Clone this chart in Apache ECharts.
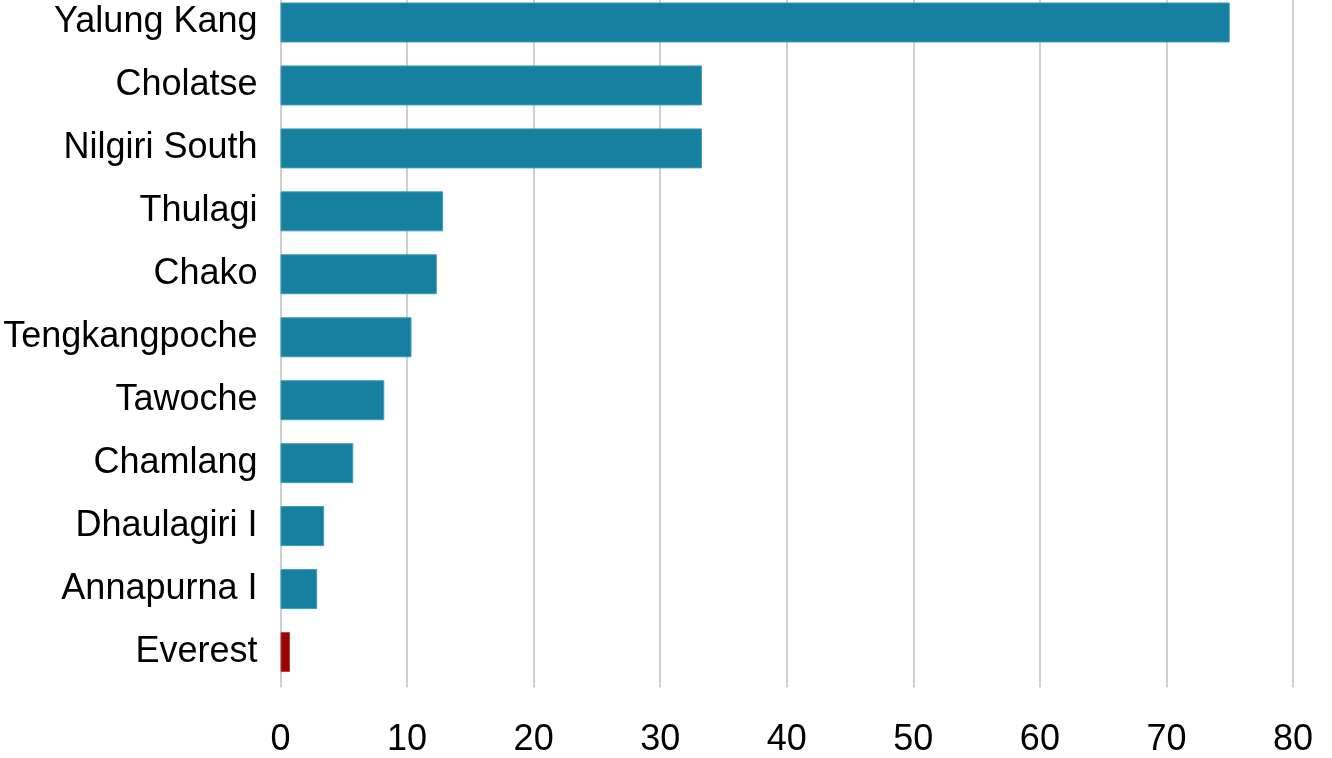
<!DOCTYPE html>
<html>
<head>
<meta charset="utf-8">
<script src="https://cdn.jsdelivr.net/npm/echarts@6/dist/echarts.min.js"></script>
<style>
  html, body { margin: 0; padding: 0; background: #fff; }
  #chart { width: 1332px; height: 758px; }
</style>
</head>
<body>
<div id="chart"></div>
<script>
  // peaks, top to bottom
  const peaks = ['Yalung Kang', 'Cholatse', 'Nilgiri South', 'Thulagi', 'Chako',
    'Tengkangpoche', 'Tawoche', 'Chamlang', 'Dhaulagiri I', 'Annapurna I', 'Everest'];
  const values = [75, 33.3, 33.3, 12.85, 12.35, 10.35, 8.2, 5.75, 3.45, 2.9, 0.75];
  const highlight = 'Everest';

  const myChart = echarts.init(document.getElementById('chart'));

  const option = {
    backgroundColor: '#fff',
    animation: false,
    grid: { left: 280.5, right: 39, top: -9, bottom: 74.5, containLabel: false, outerBoundsMode: 'none' },
    xAxis: {
      type: 'value',
      min: 0,
      max: 80,
      interval: 10,
      axisLine: { show: false },
      axisTick: { show: true, length: 4, lineStyle: { color: '#cfcfcf', width: 2 } },
      splitLine: { show: true, lineStyle: { color: '#cfcfcf', width: 2 } },
      axisLabel: { color: '#000', fontSize: 36, fontFamily: 'Liberation Sans, Arial, sans-serif', margin: 39 }
    },
    yAxis: {
      type: 'category',
      inverse: true,
      data: peaks,
      axisLine: { show: false },
      axisTick: { show: false },
      axisLabel: { color: '#000', fontSize: 36, fontFamily: 'Liberation Sans, Arial, sans-serif', margin: 23 }
    },
    series: [{
      type: 'bar',
      barWidth: 40,
      data: values.map((v, i) => ({
        value: v,
        itemStyle: peaks[i] === highlight
          ? { color: '#990000', borderColor: '#b54545', borderWidth: 1 }
          : { color: '#15809f', borderColor: '#3f9dba', borderWidth: 1 }
      }))
    }]
  };

  myChart.setOption(option);
</script>
</body>
</html>
